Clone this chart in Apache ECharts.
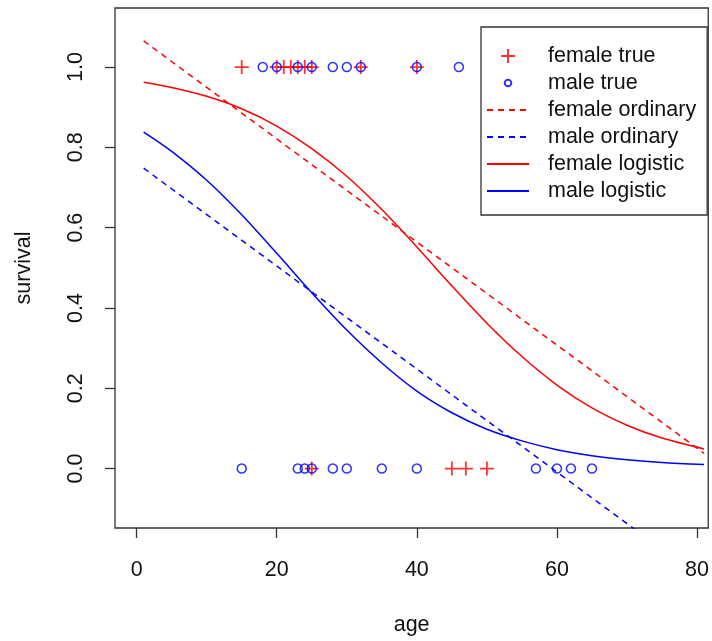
<!DOCTYPE html>
<html>
<head>
<meta charset="utf-8">
<title>survival vs age</title>
<script src="https://cdn.jsdelivr.net/npm/echarts@6/dist/echarts.min.js"></script>
<style>
  html, body { margin: 0; padding: 0; background: #fff; }
  #chart { width: 712px; height: 641px; }
</style>
</head>
<body>
<div id="chart"></div>
<script>
// observed points (survived = 1 / died = 0)
var femaleTrueAge = [15, 20, 21, 22, 23, 24, 25, 32, 40, 25, 45, 47, 50];
var femaleTrueSurv = [1, 1, 1, 1, 1, 1, 1, 1, 1, 0, 0, 0, 0];
var maleTrueAge = [18, 20, 23, 25, 28, 30, 32, 40, 46, 15, 23, 24, 25, 28, 30, 35, 40, 57, 60, 62, 65];
var maleTrueSurv = [1, 1, 1, 1, 1, 1, 1, 1, 1, 0, 0, 0, 0, 0, 0, 0, 0, 0, 0, 0, 0];

// fitted lines
var ordinaryAge = [1, 81];
var femaleOrdinary = [1.065, 0.038];
var maleOrdinary = [0.748, -0.278];

var logisticAge = [1, 5, 10, 15, 20, 25, 30, 35, 40, 45, 50, 55, 60, 65, 70, 75, 81];
var femaleLogistic = [0.962, 0.949, 0.927, 0.896, 0.853, 0.797, 0.728, 0.645, 0.552, 0.455, 0.362, 0.279, 0.208, 0.151, 0.108, 0.076, 0.049];
var maleLogistic = [0.838, 0.790, 0.718, 0.632, 0.536, 0.438, 0.345, 0.263, 0.193, 0.139, 0.098, 0.069, 0.047, 0.032, 0.022, 0.015, 0.010];

var xTicks = [0, 20, 40, 60, 80];
var yTicks = [0, 0.2, 0.4, 0.6, 0.8, 1.0];

function pairs(xs, ys) {
    var out = [];
    for (var i = 0; i < xs.length; i++) {
        out.push([xs[i], ys[i]]);
    }
    return out;
}

var RED = '#ff0000';
var BLUE = '#0000ff';
var FONT = 'Liberation Sans, Arial, sans-serif';
var plusPath = 'path://M0,7H14M7,0V14';
var circleIcon = 'path://M0,0Z M18,18Z M13.2,9A4.2,4.2,0,1,1,4.8,9A4.2,4.2,0,1,1,13.2,9Z';
var noDot = {opacity: 0};

var myChart = echarts.init(document.getElementById('chart'), null, {renderer: 'canvas'});
var option = {
    backgroundColor: '#fff',
    animation: false,
    textStyle: {fontFamily: FONT},
    grid: {
        left: 115, right: 2, top: 8, bottom: 108,
        show: true,
        borderColor: '#333',
        borderWidth: 1.3,
        backgroundColor: 'transparent'
    },
    legend: {
        orient: 'vertical',
        left: 481,
        top: 27,
        padding: [18, 11, 13, 5],
        itemWidth: 42,
        itemHeight: 14,
        itemGap: 5,
        backgroundColor: '#fff',
        borderColor: '#333',
        borderWidth: 1.3,
        borderRadius: 0,
        z: 10,
        textStyle: {
            fontFamily: FONT,
            fontSize: 21.5,
            color: '#111',
            padding: [0, 0, 0, 14]
        },
        data: [
            {name: 'female true', icon: plusPath},
            {name: 'male true', icon: circleIcon},
            {name: 'female ordinary', itemStyle: noDot},
            {name: 'male ordinary', itemStyle: noDot},
            {name: 'female logistic', itemStyle: noDot},
            {name: 'male logistic', itemStyle: noDot}
        ]
    },
    xAxis: {
        type: 'value',
        min: -3.09,
        max: 81.6,
        name: 'age',
        nameLocation: 'middle',
        nameGap: 86,
        nameTextStyle: {fontFamily: FONT, fontSize: 21.5, color: '#111'},
        axisLine: {show: false, onZero: false},
        splitLine: {show: false},
        axisTick: {
            show: true,
            length: 10,
            customValues: xTicks,
            lineStyle: {color: '#333', width: 1.3}
        },
        axisLabel: {
            customValues: xTicks,
            margin: 31,
            fontFamily: FONT,
            fontSize: 21.5,
            color: '#111'
        }
    },
    yAxis: {
        type: 'value',
        min: -0.148,
        max: 1.147,
        name: 'survival',
        nameLocation: 'middle',
        nameGap: 80,
        nameTextStyle: {fontFamily: FONT, fontSize: 21.5, color: '#111'},
        axisLine: {show: false, onZero: false},
        splitLine: {show: false},
        axisTick: {
            show: true,
            length: 10,
            customValues: yTicks,
            lineStyle: {color: '#333', width: 1.3}
        },
        axisLabel: {
            customValues: yTicks,
            rotate: 90,
            margin: 28,
            fontFamily: FONT,
            fontSize: 21.5,
            color: '#111',
            formatter: function (v) { return v.toFixed(1); }
        }
    },
    series: [
        {
            name: 'female true',
            type: 'scatter',
            symbol: plusPath,
            symbolSize: 14,
            itemStyle: {color: 'rgba(0,0,0,0)', borderColor: RED, borderWidth: 1.8},
            data: pairs(femaleTrueAge, femaleTrueSurv),
            z: 3
        },
        {
            name: 'male true',
            type: 'scatter',
            symbol: 'circle',
            symbolSize: 9,
            itemStyle: {color: 'rgba(0,0,0,0)', borderColor: BLUE, borderWidth: 1.5},
            data: pairs(maleTrueAge, maleTrueSurv),
            z: 4
        },
        {
            name: 'female ordinary',
            type: 'line',
            symbol: 'none',
            lineStyle: {color: RED, width: 1.5, type: [6, 5]},
            itemStyle: {color: RED},
            data: pairs(ordinaryAge, femaleOrdinary)
        },
        {
            name: 'male ordinary',
            type: 'line',
            symbol: 'none',
            lineStyle: {color: BLUE, width: 1.5, type: [6, 5]},
            itemStyle: {color: BLUE},
            data: pairs(ordinaryAge, maleOrdinary)
        },
        {
            name: 'female logistic',
            type: 'line',
            symbol: 'none',
            smooth: 0.3,
            lineStyle: {color: RED, width: 1.5},
            itemStyle: {color: RED},
            data: pairs(logisticAge, femaleLogistic)
        },
        {
            name: 'male logistic',
            type: 'line',
            symbol: 'none',
            smooth: 0.3,
            lineStyle: {color: BLUE, width: 1.5},
            itemStyle: {color: BLUE},
            data: pairs(logisticAge, maleLogistic)
        }
    ]
};
myChart.setOption(option);
</script>
</body>
</html>
